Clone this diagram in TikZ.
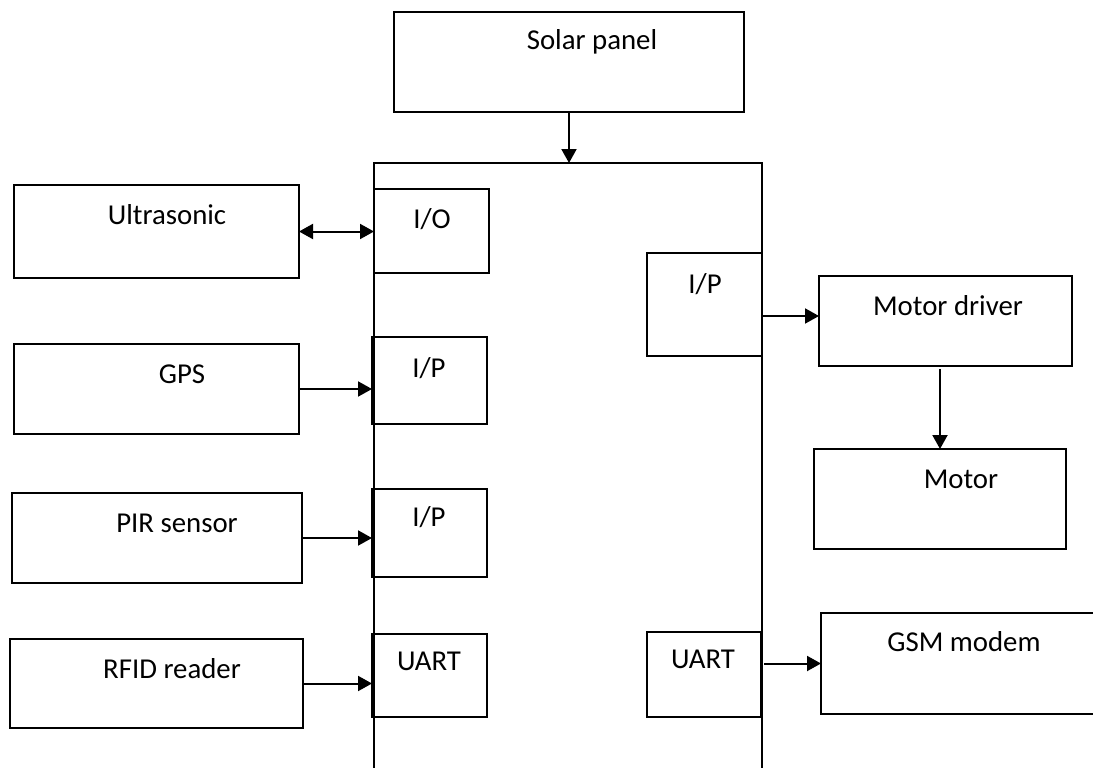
\documentclass[tikz,border=0pt]{standalone}
\usepackage{fontspec}
\setmainfont{Carlito}
\usepackage{tikz}
\usetikzlibrary{arrows.meta, positioning}

\begin{document}
\begin{tikzpicture}[
    x=1pt, y=-1pt,
    box/.style={rectangle, draw, line width=1.6pt, inner sep=0pt, outer sep=0pt},
    port/.style={box, minimum width=115pt},
    txt/.style={anchor=base, inner sep=0pt, font=\fontsize{28.8}{34}\selectfont},
    arrow/.style={line width=2pt, -{Triangle[length=14pt,width=15pt]}},
    biarrow/.style={line width=2pt, {Triangle[length=14pt,width=15pt]}-{Triangle[length=14pt,width=15pt]}}
]
\useasboundingbox (0,0) rectangle (1093,768);

% controller outline, open at the bottom
\node [box, minimum width=388pt, minimum height=640pt] (mcu) at (568,483) {};
\node [box, minimum width=350pt, minimum height=100pt] (solar) at (569,62) {};
\node [txt] (solarTxt) at (592,50) {Solar panel};

% left side
\node [box, minimum width=285pt, minimum height=93pt] (ultra) at (156.5,231.5) {};
\node [box, minimum width=285pt, minimum height=90pt] (gps) at (156.5,389) {};
\node [box, minimum width=290pt, minimum height=90pt] (pir) at (157,538) {};
\node [box, minimum width=293pt, minimum height=89pt] (rfid) at (156.5,683.5) {};
\node [txt] (ultraTxt) at (167,224) {Ultrasonic};
\node [txt] (gpsTxt) at (182,383) {GPS};
\node [txt] (pirTxt) at (177,532) {PIR sensor};
\node [txt] (rfidTxt) at (172,678) {RFID reader};

\node [port, minimum height=84pt] (ioL) at (431.5,231) {};
\node [port, minimum height=87pt] (ipA) at (429.5,380.5) {};
\node [port, minimum height=88pt] (ipB) at (429.5,533) {};
\node [port, minimum height=83pt] (uartL) at (429.5,675.5) {};
\node [txt] (ioTxt) at (432,228) {I/O};
\node [txt] (ipATxt) at (429,377) {I/P};
\node [txt] (ipBTxt) at (429,526) {I/P};
\node [txt] (uartLTxt) at (429,670) {UART};

% right side
\node [port, minimum height=103pt] (ipR) at (704.5,304.5) {};
\node [port, minimum width=114pt, minimum height=85pt] (uartR) at (704,674.5) {};
\node [txt] (ipRTxt) at (705,293) {I/P};
\node [txt] (uartRTxt) at (703,668) {UART};

\node [box, minimum width=253pt, minimum height=90pt] (driver) at (945.5,321) {};
\node [box, minimum width=252pt, minimum height=100pt] (motor) at (940,499) {};
\node [box, minimum width=279pt, minimum height=101pt] (gsm) at (960.5,663.5) {};
\node [txt] (driverTxt) at (948,315) {Motor driver};
\node [txt] (motorTxt) at (961,488) {Motor};
\node [txt] (gsmTxt) at (964,651) {GSM modem};

\draw [arrow] (solar.south) -- (solar.south |- mcu.north);
\draw [biarrow] (ultra.east) -- (ultra.east -| ioL.west);
\draw [arrow] (gps.east) -- (gps.east -| ipA.west);
\draw [arrow] (pir.east) -- (pir.east -| ipB.west);
\draw [arrow] (rfid.east) -- (rfid.east -| uartL.west);
\draw [arrow] ([yshift=5pt]driver.west -| ipR.east) -- ([yshift=5pt]driver.west);
\draw [arrow] ([yshift=-3pt]driver.south -| motor.north) -- (motor.north);
\draw [arrow] ([xshift=3pt]gsm.west -| uartR.east) -- (gsm.west);

\end{tikzpicture}
\end{document}
